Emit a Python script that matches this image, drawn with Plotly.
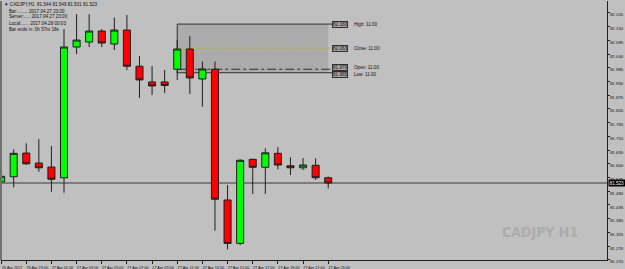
import plotly.graph_objects as go

# ---------------- data ----------------
times = ["26 Apr 21:00", "26 Apr 22:00", "26 Apr 23:00", "27 Apr 00:00", "27 Apr 01:00",
         "27 Apr 02:00", "27 Apr 03:00", "27 Apr 04:00", "27 Apr 05:00", "27 Apr 06:00",
         "27 Apr 07:00", "27 Apr 08:00", "27 Apr 09:00", "27 Apr 10:00", "27 Apr 11:00",
         "27 Apr 12:00", "27 Apr 13:00", "27 Apr 14:00", "27 Apr 15:00", "27 Apr 16:00",
         "27 Apr 17:00", "27 Apr 18:00", "27 Apr 19:00", "27 Apr 20:00", "27 Apr 21:00",
         "27 Apr 22:00", "27 Apr 23:00"]
opens = [81.528, 81.548, 81.643, 81.603, 81.587, 81.544, 82.068, 82.088, 82.132, 82.080,
         82.136, 81.991, 81.928, 81.928, 81.979, 82.060, 81.940, 81.979, 81.455, 81.281,
         81.618, 81.586, 81.642, 81.592, 81.584, 81.594, 81.544]
highs = [81.564, 81.658, 81.682, 81.699, 81.671, 82.140, 82.200, 82.200, 82.140, 82.186,
         82.196, 82.032, 81.992, 81.976, 82.096, 82.112, 82.010, 82.010, 81.515, 81.619,
         81.620, 81.662, 81.667, 81.626, 81.623, 81.622, 81.549]
lows = [81.502, 81.506, 81.595, 81.568, 81.488, 81.484, 82.040, 82.068, 82.068, 82.056,
        81.976, 81.864, 81.876, 81.884, 81.936, 81.880, 81.829, 81.332, 81.257, 81.274,
        81.479, 81.479, 81.578, 81.555, 81.575, 81.535, 81.501]
closes = [81.550, 81.642, 81.600, 81.584, 81.538, 82.068, 82.096, 82.132, 82.084, 82.136,
          81.991, 81.936, 81.912, 81.914, 82.060, 81.944, 81.980, 81.458, 81.281, 81.614,
          81.586, 81.644, 81.595, 81.584, 81.595, 81.544, 81.523]

xtick_labels = ["26 Apr 2017", "26 Apr 23:00", "27 Apr 01:00", "27 Apr 03:00", "27 Apr 05:00",
                "27 Apr 07:00", "27 Apr 09:00", "27 Apr 11:00", "27 Apr 13:00", "27 Apr 15:00",
                "27 Apr 17:00", "27 Apr 19:00", "27 Apr 21:00", "27 Apr 23:00"]
ytick_vals = [82.205, 82.150, 82.095, 82.040, 81.985, 81.930, 81.875, 81.820, 81.765, 81.710,
              81.655, 81.600, 81.545, 81.490, 81.435, 81.380, 81.325, 81.270, 81.215]

# higher-timeframe box (from 11:00 bar)
box_start = "27 Apr 11:00"
box_end = "27 Apr 23:00"
box_levels = {"High": 82.160, "Close": 82.063, "Open": 81.979, "Low": 81.965}

symbol = "CADJPY,H1"
info_lines = ["Bar:........ 2017.04.27 23:00",
              "Server:..... 2017.04.27 23:00",
              "Local:...... 2017.04.28 00:03",
              "Bar ends in: 0h 57m 18s"]
watermark = "CADJPY H1"

# ---------------- layout geometry ----------------
W, H = 625, 269
ML, MR, MT, MB = 1, 18, 1, 9
PW, PH = W - ML - MR, H - MT - MB
BG = "#c0c0c0"
EDGE = "#1e1e1e"


def px_x(px):
    return (px - ML) / PW


def px_y(py):
    return 1 - (py - MT) / PH


fig = go.Figure()
fig.add_trace(go.Candlestick(
    x=times, open=opens, high=highs, low=lows, close=closes,
    increasing=dict(fillcolor="#00ff00", line=dict(color=EDGE, width=1)),
    decreasing=dict(fillcolor="#ff0000", line=dict(color=EDGE, width=1)),
    whiskerwidth=0, showlegend=False, hoverinfo="skip",
))

i0 = times.index(box_start)
i1 = times.index(box_end)
shapes = []
shapes.append(dict(type="rect", xref="x", yref="y", x0=i0, x1=i1,
                   y0=box_levels["Low"], y1=box_levels["High"],
                   fillcolor="#ababab", line=dict(width=0), layer="below"))
shapes.append(dict(type="line", xref="x", yref="y", x0=i0, x1=i0,
                   y0=box_levels["Low"], y1=box_levels["High"],
                   line=dict(color="#303030", width=1), layer="below"))
line_styles = {"High": ("#303030", "solid"), "Close": ("#b8b800", "dot"),
               "Open": ("#303030", "dashdot"), "Low": ("#303030", "solid")}
for k, v in box_levels.items():
    c, d = line_styles[k]
    shapes.append(dict(type="line", xref="x", yref="y", x0=i0, x1=i1 + 0.3, y0=v, y1=v,
                       line=dict(color=c, width=1, dash=d), layer="below"))
shapes.append(dict(type="line", xref="paper", yref="y", x0=0, x1=1,
                   y0=closes[-1], y1=closes[-1],
                   line=dict(color="#3a3a3a", width=1), layer="below"))
shapes.append(dict(type="line", xref="paper", yref="paper", x0=0, x1=0, y0=0, y1=1,
                   line=dict(color="#707070", width=2)))

annotations = []
small = dict(family="Liberation Sans", size=4.6, color="#101010")
label_shift = {"High": 0, "Close": 0, "Open": 1.5, "Low": -1.5}
for k, v in box_levels.items():
    annotations.append(dict(x=i1 + 0.32, y=v, xref="x", yref="y", xanchor="left",
                            yanchor="middle", text=f"{v:.3f}", showarrow=False,
                            font=small, bgcolor="#a6a6a6", bordercolor="#303030",
                            borderwidth=1, borderpad=0, yshift=label_shift[k]))
    annotations.append(dict(x=i1 + 1.9, y=v, xref="x", yref="y", xanchor="left",
                            yanchor="middle", text=f"{k}: 11:00", showarrow=False,
                            font=small, yshift=label_shift[k]))
annotations.append(dict(x=1, y=closes[-1], xref="paper", yref="y", xanchor="left",
                        yanchor="middle", text=f"{closes[-1]:.3f}", showarrow=False,
                        font=dict(family="Liberation Sans", size=4.6, color="white"),
                        bgcolor="#000000", borderpad=0.6, xshift=1))
header = f"▼ {symbol}  {opens[-1]:.3f} {highs[-1]:.3f} {lows[-1]:.3f} {closes[-1]:.3f}"
annotations.append(dict(x=px_x(2), y=px_y(4.5), xref="paper", yref="paper", xanchor="left",
                        yanchor="middle", text=header, showarrow=False, font=small))
for j, t in enumerate(info_lines):
    annotations.append(dict(x=px_x(7), y=px_y(11 + 6 * j), xref="paper", yref="paper",
                            xanchor="left", yanchor="middle", text=t, showarrow=False,
                            font=small))
annotations.append(dict(x=px_x(540), y=px_y(232), xref="paper", yref="paper",
                        xanchor="center", yanchor="middle", text=watermark,
                        showarrow=False,
                        font=dict(family="Liberation Sans Narrow, DejaVu Sans Condensed, Liberation Sans",
                                  size=14, color="#acacac", weight="bold")))

fig.update_layout(
    width=W, height=H,
    margin=dict(l=ML, r=MR, t=MT, b=MB, pad=0, autoexpand=False),
    paper_bgcolor=BG, plot_bgcolor=BG,
    boxgap=0.2,
    shapes=shapes, annotations=annotations,
    font=dict(family="Liberation Sans", size=5, color="#101010"),
    xaxis=dict(type="category", range=[-0.008, 48.16], rangeslider=dict(visible=False),
               tickvals=times[0::2], ticktext=xtick_labels, showgrid=False, zeroline=False,
               ticks="outside", ticklen=3, tickcolor="#202020", tickwidth=1,
               showline=True, linecolor="#202020", linewidth=1, tickangle=0,
               automargin=False,
               tickfont=dict(family="Liberation Sans", size=3.8, color="#101010"),
               ticklabelshift=11, ticklabelstandoff=0, fixedrange=True),
    yaxis=dict(side="right", range=[81.2144, 82.2525], tickvals=ytick_vals,
               ticktext=[f"{v:.3f}" for v in ytick_vals], showgrid=False, zeroline=False,
               ticks="outside", ticklen=2, tickcolor="#202020", tickwidth=1,
               showline=True, linecolor="#202020", linewidth=1, automargin=False,
               tickfont=dict(family="Liberation Sans", size=4.4, color="#101010"),
               ticklabelshift=2, ticklabelstandoff=-1, fixedrange=True),
)

fig.write_html("out.html")
